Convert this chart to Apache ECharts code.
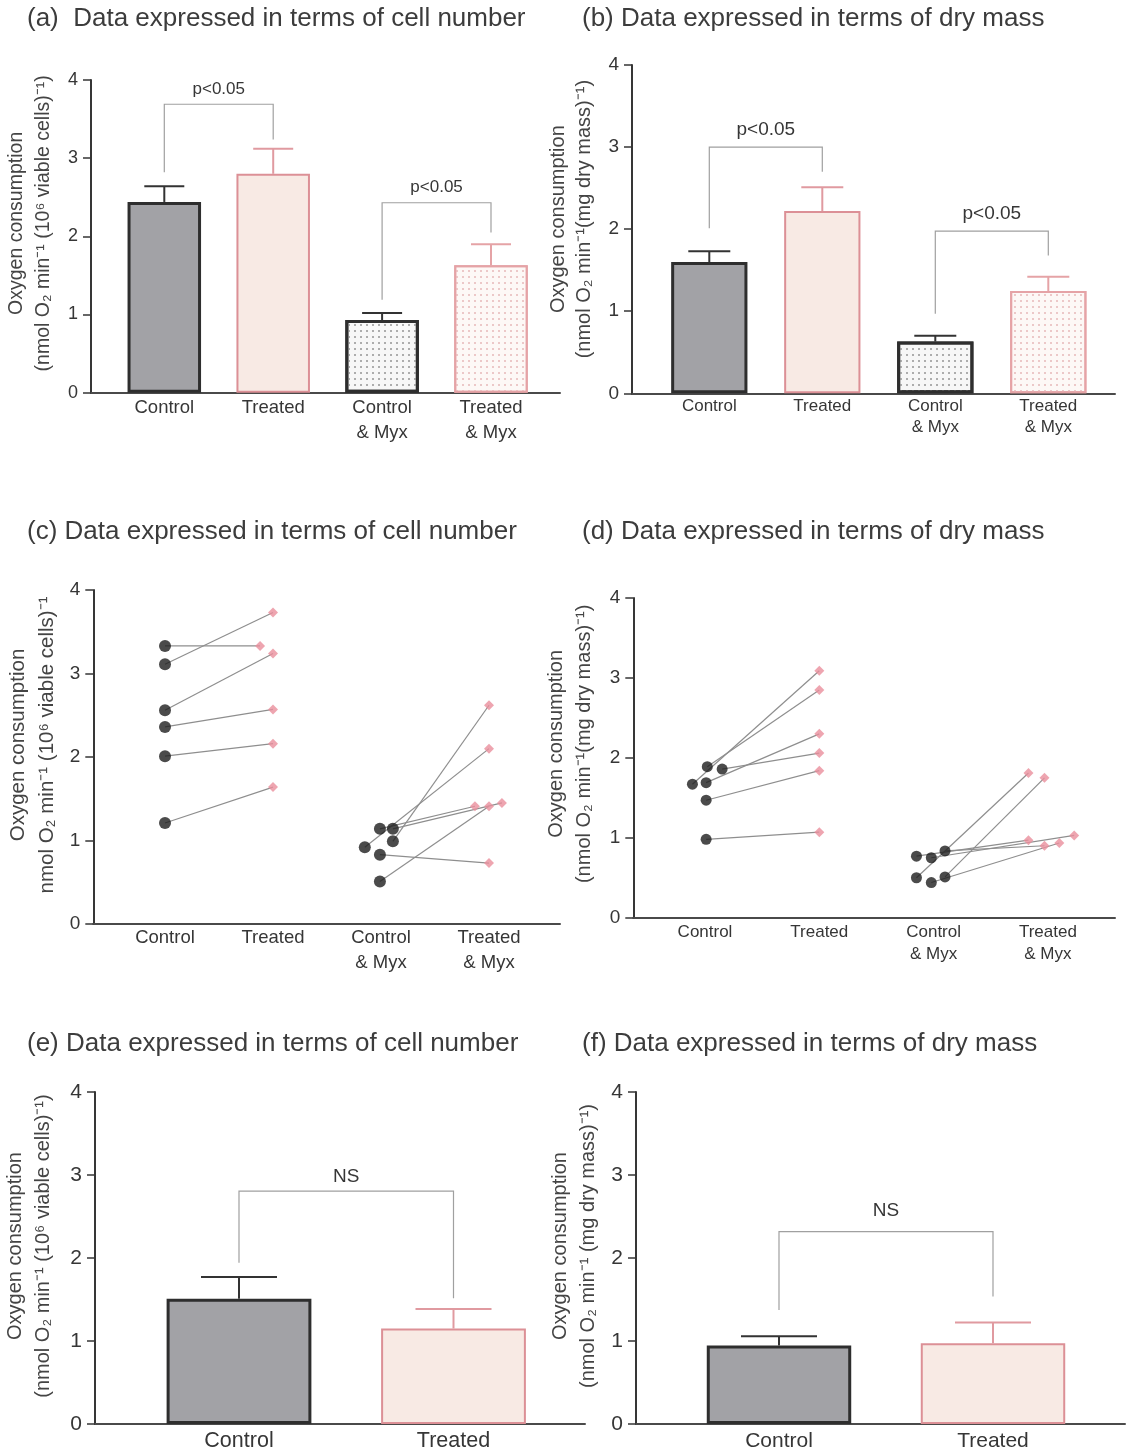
<!DOCTYPE html>
<html>
<head>
<meta charset="utf-8">
<script src="https://cdn.jsdelivr.net/npm/echarts@6/dist/echarts.min.js"></script>
<style>
  html, body { margin: 0; padding: 0; background: #ffffff; }
  #chart { width: 1127px; height: 1453px; }
</style>
</head>
<body>
<div id="chart"></div>
<script>
// ---------------- data ----------------
const groups4 = ['Control', 'Treated', 'Control\n& Myx', 'Treated\n& Myx'];
const groups2 = ['Control', 'Treated'];
const yTicks = [0, 1, 2, 3, 4];

// (a) mean ± SEM, nmol O2 / min / 10^6 viable cells
const cellMean = [2.44, 2.80, 0.93, 1.63];
const cellSem  = [0.20, 0.32, 0.09, 0.27];
const cellBrackets = [[0, 1, 3.69, 2.82, 3.24], [2, 3, 2.43, 1.19, 2.05]];
const cellBracketText = ['p<0.05', 'p<0.05'];

// (b) mean ± SEM, nmol O2 / min / mg dry mass
const massMean = [1.60, 2.22, 0.63, 1.245];
const massSem  = [0.13, 0.29, 0.07, 0.175];
const massBrackets = [[0, 1, 3.00, 2.01, 2.70], [2, 3, 1.975, 0.97, 1.68]];
const massBracketText = ['p<0.05', 'p<0.05'];

// (c) individual cultures per 10^6 viable cells, paired by index
const cellControl    = [3.33, 3.11, 2.56, 2.36, 2.01, 1.21];
const cellTreated    = [3.33, 3.73, 3.24, 2.57, 2.16, 1.64];
const cellControlMyx = [0.92, 0.99, 1.14, 1.14, 0.83, 0.51];
const cellTreatedMyx = [2.10, 2.62, 1.41, 1.45, 0.73, 1.41];
// sideways spread of overlapping points (fraction of a group slot)
const cellControlSpread    = [0, 0, 0, 0, 0, 0];
const cellTreatedSpread    = [-0.12, 0, 0, 0, 0, 0];
const cellControlMyxSpread = [-0.15, 0.11, -0.01, 0.11, -0.01, -0.01];
const cellTreatedMyxSpread = [0, 0, -0.13, 0.12, 0, 0];

// (d) individual cultures per mg dry mass, paired by index
const massControl    = [1.67, 1.89, 1.86, 1.69, 1.47, 0.98];
const massTreated    = [3.09, 2.85, 2.06, 2.30, 1.84, 1.07];
const massControlMyx = [0.77, 0.75, 0.835, 0.50, 0.44, 0.51];
const massTreatedMyx = [0.97, 1.03, 0.90, 1.81, 0.935, 1.75];
const massControlSpread    = [-0.11, 0.02, 0.15, 0.01, 0.01, 0.01];
const massTreatedSpread    = [0, 0, 0, 0, 0, 0];
const massControlMyxSpread = [-0.15, -0.02, 0.10, -0.15, -0.02, 0.10];
const massTreatedMyxSpread = [-0.17, 0.23, -0.03, -0.17, 0.10, -0.03];

// (e) mean ± SEM per 10^6 viable cells
const cellMean2 = [1.51, 1.15];
const cellSem2  = [0.26, 0.235];
const cellBrackets2 = [[0, 1, 2.806, 1.944, 1.515]];
const cellBracketText2 = ['NS'];

// (f) mean ± SEM per mg dry mass
const massMean2 = [0.946, 0.974];
const massSem2  = [0.11, 0.25];
const massBrackets2 = [[0, 1, 2.317, 1.375, 1.535]];
const massBracketText2 = ['NS'];

// ---------------- styling ----------------
const FONT = 'Liberation Sans, Arial, sans-serif';
const INK = '#363636';
const PINK = '#e09aa0';

const barStyles = [
  { color: '#a2a2a6', borderColor: '#2e2e2e', borderWidth: 3 },
  { color: '#f8eae4', borderColor: '#dc9096', borderWidth: 2 },
  { color: '#f7f7f7', borderColor: '#2e2e2e', borderWidth: 3,
    decal: { symbol: 'rect', symbolSize: 1, color: '#adadad', dashArrayX: [1.5, 3.5], dashArrayY: [1.5, 3.5] } },
  { color: '#fdf8f6', borderColor: '#e5a3a6', borderWidth: 2,
    decal: { symbol: 'rect', symbolSize: 1, color: '#ecc8c8', dashArrayX: [1.5, 3.5], dashArrayY: [1.5, 3.5] } }
];
const errColors = ['#333333', PINK, '#333333', '#e5a3a6'];

// panel frames: y-axis x, axis end x, top (value 4), bottom (value 0), first group centre, group spacing
const panels = [
  { axisX: 91,    endX: 560,  top: 80,   bottom: 392.7, first: 164.3, step: 108.9, cats: groups4,
    tick: 18, lab: 18.5, labLH: 25.5, labMargin: 2, nameSize: 19.5, nameLH: 27, nameGap: 34, namePad: 26,
    name: 'Oxygen consumption\n(nmol O\u2082 min\u207B\u00B9 (10\u2076 viable cells)\u207B\u00B9)' },
  { axisX: 632,   endX: 1115, top: 65,   bottom: 393.3, first: 709.3, step: 113,   cats: groups4,
    tick: 19, lab: 17, labLH: 21, labMargin: 3, nameSize: 20, nameLH: 26, nameGap: 35, namePad: 20,
    name: 'Oxygen consumption\n(nmol O\u2082 min\u207B\u00B9(mg dry mass)\u207B\u00B9)' },
  { axisX: 93.3,  endX: 560,  top: 590,  bottom: 924,   first: 165,   step: 108,   cats: groups4,
    tick: 19, lab: 18.5, labLH: 25, labMargin: 1, nameSize: 20.5, nameLH: 29, nameGap: 31, namePad: 24,
    name: 'Oxygen consumption\nnmol O\u2082 min\u207B\u00B9 (10\u2076 viable cells)\u207B\u00B9' },
  { axisX: 633.3, endX: 1115, top: 598,  bottom: 917.7, first: 705,   step: 114.3, cats: groups4,
    tick: 19, lab: 17, labLH: 22.5, labMargin: 3, nameSize: 20, nameLH: 28, nameGap: 35, namePad: 28,
    name: 'Oxygen consumption\n(nmol O\u2082 min\u207B\u00B9(mg dry mass)\u207B\u00B9)' },
  { axisX: 95,    endX: 585,  top: 1092, bottom: 1424,  first: 239,   step: 214.5, cats: groups2,
    tick: 21, lab: 21.5, labLH: 24, labMargin: 5, nameSize: 20, nameLH: 28.5, nameGap: 37, namePad: 24,
    name: 'Oxygen consumption\n(nmol O\u2082 min\u207B\u00B9 (10\u2076 viable cells)\u207B\u00B9)' },
  { axisX: 636,   endX: 1125, top: 1092, bottom: 1424,  first: 779,   step: 214,   cats: groups2,
    tick: 21, lab: 21, labLH: 24, labMargin: 5, nameSize: 20, nameLH: 28, nameGap: 34, namePad: 24,
    name: 'Oxygen consumption\n(nmol O\u2082 min\u207B\u00B9 (mg dry mass)\u207B\u00B9)' }
];

const grids = [], xAxes = [], yAxes = [];
panels.forEach((p, i) => {
  grids.push({ left: p.axisX, top: p.top, width: p.endX - p.axisX, height: p.bottom - p.top });
  xAxes.push({
    gridIndex: i, type: 'value',
    min: (p.axisX - p.first) / p.step, max: (p.endX - p.first) / p.step,
    axisLine: { onZero: false, lineStyle: { color: '#4a4a4a', width: 2 } },
    axisTick: { show: false }, splitLine: { show: false },
    axisLabel: {
      customValues: p.cats.map((_, k) => k),
      formatter: v => p.cats[Math.round(v)],
      fontFamily: FONT, fontSize: p.lab, lineHeight: p.labLH, color: INK, margin: p.labMargin
    }
  });
  yAxes.push({
    gridIndex: i, type: 'value', min: yTicks[0], max: yTicks[yTicks.length - 1], interval: 1,
    axisLine: { show: true, onZero: false, lineStyle: { color: INK, width: 2 } },
    axisTick: { show: true, length: 8, lineStyle: { color: INK, width: 1.5 } },
    splitLine: { show: false },
    axisLabel: { fontFamily: FONT, fontSize: p.tick, color: INK, margin: 13 },
    name: p.name, nameLocation: 'middle', nameRotate: 90, nameGap: p.nameGap,
    nameTextStyle: { fontFamily: FONT, fontSize: p.nameSize, lineHeight: p.nameLH, color: '#444',
                     padding: [0, 0, 0, p.namePad] }
  });
});

// ---------------- series builders ----------------
function barSeries(idx, means) {
  return {
    type: 'bar', xAxisIndex: idx, yAxisIndex: idx,
    barWidth: panels[idx].step * 0.675,
    data: means.map((m, k) => ({ value: [k, m], itemStyle: barStyles[k] })),
    z: 2
  };
}
function errorSeries(idx, means, sems, capPx) {
  return {
    type: 'custom', xAxisIndex: idx, yAxisIndex: idx, z: 3,
    data: means.map((m, k) => [k, m, m + sems[k]]),
    renderItem: (params, api) => {
      const x = api.value(0);
      const a = api.coord([x, api.value(1)]);
      const b = api.coord([x, api.value(2)]);
      const c = errColors[params.dataIndex];
      return { type: 'group', children: [
        { type: 'line', shape: { x1: a[0], y1: a[1], x2: b[0], y2: b[1] }, style: { stroke: c, lineWidth: 2 } },
        { type: 'line', shape: { x1: b[0] - capPx / 2, y1: b[1], x2: b[0] + capPx / 2, y2: b[1] }, style: { stroke: c, lineWidth: 2 } }
      ] };
    }
  };
}
function bracketSeries(idx, brackets, texts, fontSize, lift) {
  return {
    type: 'custom', xAxisIndex: idx, yAxisIndex: idx, z: 4,
    data: brackets,
    renderItem: (params, api) => {
      const x1 = api.value(0), x2 = api.value(1), yt = api.value(2);
      const p1 = api.coord([x1, api.value(3)]), p2 = api.coord([x1, yt]);
      const p3 = api.coord([x2, yt]), p4 = api.coord([x2, api.value(4)]);
      return { type: 'group', children: [
        { type: 'polyline', shape: { points: [p1, p2, p3, p4] }, style: { stroke: '#a0a0a0', lineWidth: 1.2, fill: null } },
        { type: 'text', x: (p2[0] + p3[0]) / 2, y: p2[1] - lift,
          style: { text: texts[params.dataIndex], fontFamily: FONT, fontSize: fontSize, fill: INK,
                   align: 'center', verticalAlign: 'middle' } }
      ] };
    }
  };
}
function pairedSeries(idx, groupA, before, spreadA, after, spreadB, dot, diamond) {
  const pairs = before.map((v, k) => [groupA + spreadA[k], v, groupA + 1 + spreadB[k], after[k]]);
  return [
    {
      type: 'custom', xAxisIndex: idx, yAxisIndex: idx, z: 2, data: pairs,
      renderItem: (params, api) => {
        const a = api.coord([api.value(0), api.value(1)]);
        const b = api.coord([api.value(2), api.value(3)]);
        return { type: 'line', shape: { x1: a[0], y1: a[1], x2: b[0], y2: b[1] }, style: { stroke: '#8e8e8e', lineWidth: 1.2 } };
      }
    },
    {
      type: 'scatter', xAxisIndex: idx, yAxisIndex: idx, z: 3,
      symbol: 'circle', symbolSize: dot, itemStyle: { color: '#1e1e1e' },
      data: before.map((v, k) => [groupA + spreadA[k], v])
    },
    {
      type: 'scatter', xAxisIndex: idx, yAxisIndex: idx, z: 3,
      symbol: 'diamond', symbolSize: diamond, itemStyle: { color: '#ea8e9c' },
      data: after.map((v, k) => [groupA + 1 + spreadB[k], v])
    }
  ];
}

const series = [
  barSeries(0, cellMean), errorSeries(0, cellMean, cellSem, 40), bracketSeries(0, cellBrackets, cellBracketText, 17, 15),
  barSeries(1, massMean), errorSeries(1, massMean, massSem, 42), bracketSeries(1, massBrackets, massBracketText, 19, 17),
  ...pairedSeries(2, 0, cellControl, cellControlSpread, cellTreated, cellTreatedSpread, 12, 10),
  ...pairedSeries(2, 2, cellControlMyx, cellControlMyxSpread, cellTreatedMyx, cellTreatedMyxSpread, 12, 10),
  ...pairedSeries(3, 0, massControl, massControlSpread, massTreated, massTreatedSpread, 11, 10),
  ...pairedSeries(3, 2, massControlMyx, massControlMyxSpread, massTreatedMyx, massTreatedMyxSpread, 11, 10),
  barSeries(4, cellMean2), errorSeries(4, cellMean2, cellSem2, 76), bracketSeries(4, cellBrackets2, cellBracketText2, 19, 14),
  barSeries(5, massMean2), errorSeries(5, massMean2, massSem2, 76), bracketSeries(5, massBrackets2, massBracketText2, 19, 21)
];

const titleStyle = { fontFamily: FONT, fontSize: 26, fontWeight: 'normal', color: '#3c3c3c' };
const titles = [
  { text: '(a)  Data expressed in terms of cell number', left: 27, top: 6 },
  { text: '(b) Data expressed in terms of dry mass', left: 582, top: 6 },
  { text: '(c) Data expressed in terms of cell number', left: 27, top: 519 },
  { text: '(d) Data expressed in terms of dry mass', left: 582, top: 519 },
  { text: '(e) Data expressed in terms of cell number', left: 27, top: 1031 },
  { text: '(f) Data expressed in terms of dry mass', left: 582, top: 1031 }
].map(t => Object.assign({ padding: 0, textStyle: titleStyle }, t));

const chart = echarts.init(document.getElementById('chart'), null, { renderer: 'canvas' });
chart.setOption({
  backgroundColor: '#ffffff',
  animation: false,
  title: titles,
  grid: grids,
  xAxis: xAxes,
  yAxis: yAxes,
  series: series
});
</script>
</body>
</html>
